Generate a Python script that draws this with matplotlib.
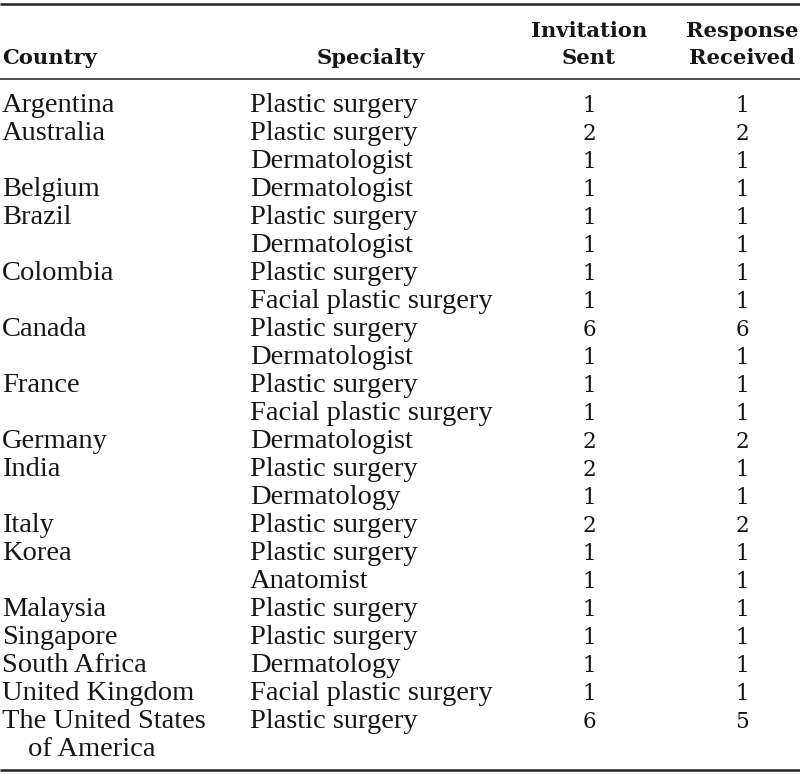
import matplotlib
matplotlib.use("Agg")
import matplotlib.pyplot as plt

countries = ["Argentina", "Australia", "", "Belgium", "Brazil", "", "Colombia", "", "Canada", "",
             "France", "", "Germany", "India", "", "Italy", "Korea", "", "Malaysia", "Singapore",
             "South Africa", "United Kingdom", "The United States"]
country_wrap = {22: "of America"}
specialties = ["Plastic surgery", "Plastic surgery", "Dermatologist", "Dermatologist", "Plastic surgery",
               "Dermatologist", "Plastic surgery", "Facial plastic surgery", "Plastic surgery", "Dermatologist",
               "Plastic surgery", "Facial plastic surgery", "Dermatologist", "Plastic surgery", "Dermatology",
               "Plastic surgery", "Plastic surgery", "Anatomist", "Plastic surgery", "Plastic surgery",
               "Dermatology", "Facial plastic surgery", "Plastic surgery"]
invitation_sent = [1, 2, 1, 1, 1, 1, 1, 1, 6, 1, 1, 1, 2, 2, 1, 2, 1, 1, 1, 1, 1, 1, 6]
response_received = [1, 2, 1, 1, 1, 1, 1, 1, 6, 1, 1, 1, 2, 1, 1, 2, 1, 1, 1, 1, 1, 1, 5]
headers = ["Country", "Specialty", ("Invitation", "Sent"), ("Response", "Received")]

W, H = 800, 775
fig = plt.figure(figsize=(W / 100, H / 100), dpi=100)
ax = fig.add_axes([0, 0, 1, 1])
ax.set_xlim(0, W)
ax.set_ylim(H, 0)
ax.axis("off")

ink = "#161616"
body = dict(family=["Liberation Serif", "DejaVu Serif"], fontsize=20.5, color=ink)
nums = dict(family=["DejaVu Serif"], fontsize=15.5, color=ink)
head = dict(family=["DejaVu Serif"], fontsize=15.2, fontweight="bold", color=ink)

# rules
ax.plot([0, W], [3.5, 3.5], color="#222222", lw=1.8, solid_capstyle="butt")
ax.plot([0, W], [78.5, 78.5], color="#222222", lw=1.1, solid_capstyle="butt")
ax.plot([0, W], [770, 770], color="#222222", lw=1.8, solid_capstyle="butt")

x_country, x_spec, x_inv, x_resp = 2, 250, 589, 742

# headers
hb1, hb2 = 37, 64
ax.text(x_country, hb2, headers[0], ha="left", va="baseline", **head)
ax.text(371, hb2, headers[1], ha="center", va="baseline", **head)
ax.text(x_inv, hb1, headers[2][0], ha="center", va="baseline", **head)
ax.text(x_inv, hb2, headers[2][1], ha="center", va="baseline", **head)
ax.text(x_resp, hb1, headers[3][0], ha="center", va="baseline", **head)
ax.text(x_resp, hb2, headers[3][1], ha="center", va="baseline", **head)

b0, dy = 112, 28
for i, (c, s, a, b) in enumerate(zip(countries, specialties, invitation_sent, response_received)):
    y = b0 + i * dy
    if c:
        ax.text(x_country, y, c, ha="left", va="baseline", **body)
    if i in country_wrap:
        ax.text(x_country + 26, y + dy, country_wrap[i], ha="left", va="baseline", **body)
    ax.text(x_spec, y, s, ha="left", va="baseline", **body)
    ax.text(x_inv, y, str(a), ha="center", va="baseline", **nums)
    ax.text(x_resp, y, str(b), ha="center", va="baseline", **nums)

fig.savefig("out.png", dpi=100, facecolor="white")
